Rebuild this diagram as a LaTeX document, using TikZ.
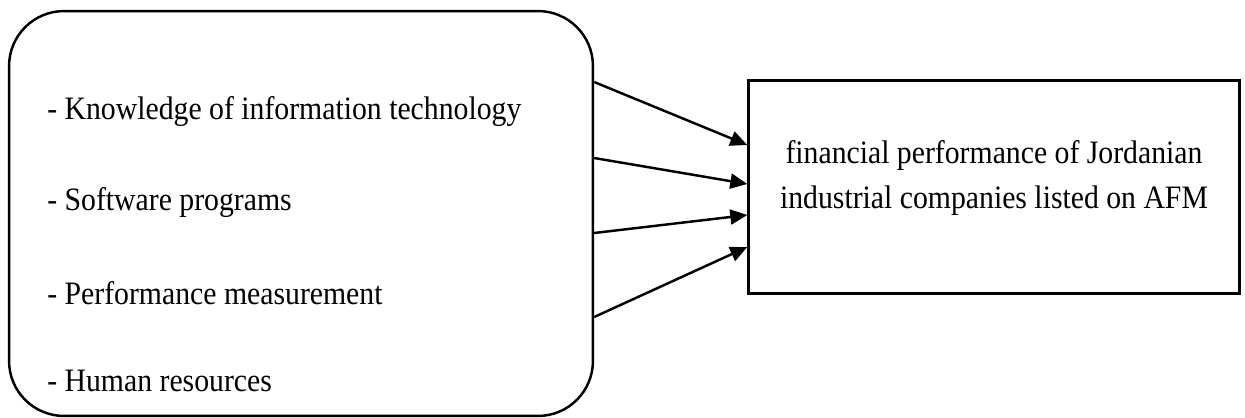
\documentclass[tikz,border=0pt]{standalone}
\usepackage{fontspec}
\setmainfont{Liberation Serif}[FakeStretch=0.91]
\usetikzlibrary{arrows.meta}
\usetikzlibrary{calc}

\tikzset{
    inbox/.style={draw,line width=1.4pt,rounded corners=1.1cm,
        minimum width=11.68cm,minimum height=8.1cm},
    outbox/.style={draw,line width=1.4pt,minimum width=9.82cm,minimum height=4.26cm},
    item/.style={anchor=west,inner sep=0pt},
    link/.style={line width=1.4pt,-{Triangle[length=0.34cm,width=0.3cm]}}
}

\begin{document}
\begin{tikzpicture}[x=0.02cm,y=-0.02cm,font=\fontsize{18.6pt}{22pt}\selectfont]
    \useasboundingbox (0,0) rectangle (1245,417);
    \node[inbox] (inbox) at (301,213.5) {};
    \node[outbox] (perf) at (994,187) {};
    \node[item] (know) at (47,112) {- Knowledge of information technology};
    \node[item] (soft) at (47,203) {- Software programs};
    \node[item] (meas) at (47,293) {- Performance measurement};
    \node[item] (human) at (47,381) {- Human resources};
    \node[align=center,inner sep=0pt,font=\fontsize{18.6pt}{25.6pt}\selectfont]
        (perftxt) at (994,178) {financial performance of Jordanian\\
        industrial companies listed on AFM};
    \draw[link] ($(inbox.east)+(0,-131.5)$) -- ($(perf.west)+(0,-42)$);
    \draw[link] ($(inbox.east)+(0,-55.5)$) -- ($(perf.west)+(0,-3)$);
    \draw[link] ($(inbox.east)+(0,19.5)$) -- ($(perf.west)+(0,28)$);
    \draw[link] ($(inbox.east)+(0,103.5)$) -- ($(perf.west)+(0,60)$);
\end{tikzpicture}
\end{document}
